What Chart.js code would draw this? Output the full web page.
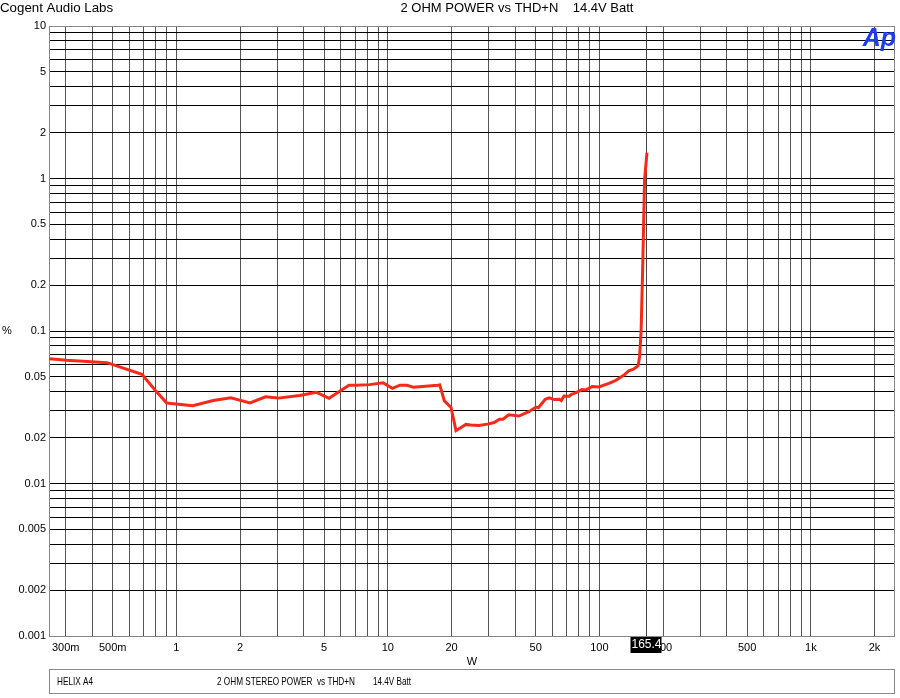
<!DOCTYPE html>
<html>
<head>
<meta charset="utf-8">
<script src="https://cdn.jsdelivr.net/npm/chart.js@4"></script>
<style>
  html, body { margin: 0; padding: 0; background: #fff; }
  #wrap { width: 900px; height: 698px; position: relative; }
</style>
</head>
<body>
<div id="wrap"><canvas id="chart" width="900" height="698"></canvas></div>
<script>
// power (W) and THD+N (%)
const powerW = [0.25, 0.304, 0.47, 0.505, 0.687, 0.793, 0.901, 1.195, 1.495, 1.81, 2.23, 2.64, 3.03, 3.83,
  4.6, 5.27, 5.92, 6.55, 7.1, 8.2, 9.5, 10.5, 11.4, 12.3, 13.2, 14.6, 17.2, 17.6, 18.5, 19.9,
  21.0, 23.4, 24.6, 26.9, 29.6, 31.8, 33.7, 35.0, 37.3, 41.7, 46.6, 50.2, 51.5, 55.5, 57.9,
  61.1, 64.7, 66.1, 68.1, 72.0, 73.9, 76.0, 79.8, 82.8, 86.6, 92.6, 99.5, 111, 119, 126, 131,
  137.8, 145, 152.6, 155, 157.6, 160.5, 163.6, 168];
const thdPct = [0.0658, 0.0643, 0.0620, 0.0600, 0.0520, 0.0410, 0.0337, 0.0324, 0.0350, 0.0365, 0.0338, 0.0370, 0.0363, 0.0378,
  0.0396, 0.0362, 0.0403, 0.0441, 0.0441, 0.0445, 0.0458, 0.0421, 0.0441, 0.0441, 0.0428, 0.0433, 0.0441, 0.0443, 0.0348, 0.0315,
  0.0222, 0.0244, 0.0242, 0.0240, 0.0245, 0.0251, 0.0264, 0.0264, 0.0282, 0.0277, 0.0297, 0.0317, 0.0314, 0.0357, 0.0364,
  0.0355, 0.0357, 0.0350, 0.0375, 0.0374, 0.0385, 0.0390, 0.0402, 0.0413, 0.0411, 0.0433, 0.0430, 0.0454, 0.0472, 0.0497, 0.0514,
  0.0549, 0.0562, 0.0592, 0.0679, 0.100, 0.278, 0.977, 1.476];

const xGrid = [0.3, 0.4, 0.5, 0.6, 0.7, 0.8, 0.9, 1, 2, 3, 4, 5, 6, 7, 8, 9, 10, 20, 30, 40, 50, 60, 70, 80, 90,
  100, 200, 300, 400, 500, 600, 700, 800, 900, 1000, 2000];
const xLabelVals = [0.3, 0.5, 1, 2, 5, 10, 20, 50, 100, 200, 500, 1000, 2000];
const xLabelText = ['300m', '500m', '1', '2', '5', '10', '20', '50', '100', '200', '500', '1k', '2k'];

const yGrid = [0.001, 0.002, 0.003, 0.004, 0.005, 0.006, 0.007, 0.008, 0.009, 0.01, 0.02, 0.03, 0.04, 0.05, 0.06, 0.07, 0.08, 0.09,
  0.1, 0.2, 0.3, 0.4, 0.5, 0.6, 0.7, 0.8, 0.9, 1, 2, 3, 4, 5, 6, 7, 8, 9, 10];
const yLabelVals = [0.001, 0.002, 0.005, 0.01, 0.02, 0.05, 0.1, 0.2, 0.5, 1, 2, 5, 10];
const yLabelText = ['0.001', '0.002', '0.005', '0.01', '0.02', '0.05', '0.1', '0.2', '0.5', '1', '2', '5', '10'];

const cursorW = 165.4;
const FONT = '"Liberation Sans", Arial, sans-serif';

function labelFor(v, vals, texts) {
  for (let i = 0; i < vals.length; i++) {
    if (Math.abs(v - vals[i]) / vals[i] < 1e-6) return texts[i];
  }
  return '';
}

const extras = {
  id: 'extras',
  beforeDatasetsDraw(chart) {
    const ctx = chart.ctx;
    const a = chart.chartArea;
    const cx = Math.round(chart.scales.x.getPixelForValue(cursorW)) + 0.5;
    ctx.save();
    // plot frame
    ctx.strokeStyle = '#888';
    ctx.lineWidth = 1;
    ctx.strokeRect(a.left + 0.5, a.top + 0.5, a.right - a.left - 1, a.bottom - a.top);
    // cursor line
    ctx.strokeStyle = '#444';
    ctx.beginPath();
    ctx.moveTo(cx, a.top);
    ctx.lineTo(cx, a.bottom);
    ctx.stroke();
    ctx.restore();
  },
  afterDraw(chart) {
    const ctx = chart.ctx;
    const a = chart.chartArea;
    const cx = Math.round(chart.scales.x.getPixelForValue(cursorW)) + 0.5;
    ctx.save();
    // cursor readout box
    ctx.fillStyle = '#000';
    ctx.fillRect(cx - 16, a.bottom + 1, 31, 16);
    ctx.fillStyle = '#fff';
    ctx.font = '12px ' + FONT;
    ctx.textAlign = 'center';
    ctx.textBaseline = 'middle';
    ctx.fillText(cursorW.toFixed(1), cx, a.bottom + 9);
    // titles
    ctx.fillStyle = '#000';
    ctx.font = '13.3px ' + FONT;
    ctx.textAlign = 'left';
    ctx.fillText('Cogent Audio Labs', 0, 8);
    ctx.font = '13px ' + FONT;
    ctx.textAlign = 'center';
    ctx.fillText('2 OHM POWER vs THD+N    14.4V Batt', 517, 8);
    // axis names
    ctx.font = '11px ' + FONT;
    ctx.fillText('%', 7, 331);
    ctx.fillText('W', 472, 662);
    // info box at bottom
    ctx.strokeStyle = '#888';
    ctx.strokeRect(49.5, 669.5, 845, 24);
    ctx.fillStyle = '#000';
    ctx.font = '11px ' + FONT;
    ctx.textAlign = 'left';
    ctx.fillText('HELIX A4', 57, 682, 36);
    ctx.fillText('2 OHM STEREO POWER  vs THD+N', 217, 682, 138);
    ctx.fillText('14.4V Batt', 373, 682, 38);
    // Ap logo
    ctx.fillStyle = '#1f3cf5';
    ctx.font = 'italic bold 25px ' + FONT;
    ctx.textAlign = 'right';
    ctx.fillText('Ap', 896, 39);
    ctx.restore();
  }
};

new Chart(document.getElementById('chart'), {
  type: 'line',
  data: {
    datasets: [{
      data: powerW.map((w, i) => ({ x: w, y: thdPct[i] })),
      borderColor: '#f52a18',
      borderWidth: 3,
      pointRadius: 0,
      tension: 0,
      fill: false
    }]
  },
  options: {
    responsive: false,
    animation: false,
    layout: { padding: { top: 26, right: 5, bottom: 0, left: 0 } },
    plugins: { legend: { display: false }, tooltip: { enabled: false }, title: { display: false } },
    scales: {
      x: {
        type: 'logarithmic',
        min: 0.25,
        max: 2500,
        afterBuildTicks: s => { s.ticks = xGrid.map(v => ({ value: v })); },
        afterFit: s => { s.height = 62; },
        grid: { color: '#555', lineWidth: 1, drawTicks: false },
        border: { display: false },
        ticks: {
          autoSkip: false, maxRotation: 0, padding: 5, color: '#000',
          font: { family: FONT, size: 11 },
          callback: v => labelFor(v, xLabelVals, xLabelText)
        }
      },
      y: {
        type: 'logarithmic',
        min: 0.001,
        max: 10,
        afterBuildTicks: s => { s.ticks = yGrid.map(v => ({ value: v })); },
        afterFit: s => { s.width = 49; },
        grid: { color: '#000', lineWidth: 1, drawTicks: false },
        border: { display: false },
        ticks: {
          autoSkip: false, padding: 3, color: '#000',
          font: { family: FONT, size: 11 },
          callback: v => labelFor(v, yLabelVals, yLabelText)
        }
      }
    }
  },
  plugins: [extras]
});
</script>
</body>
</html>
